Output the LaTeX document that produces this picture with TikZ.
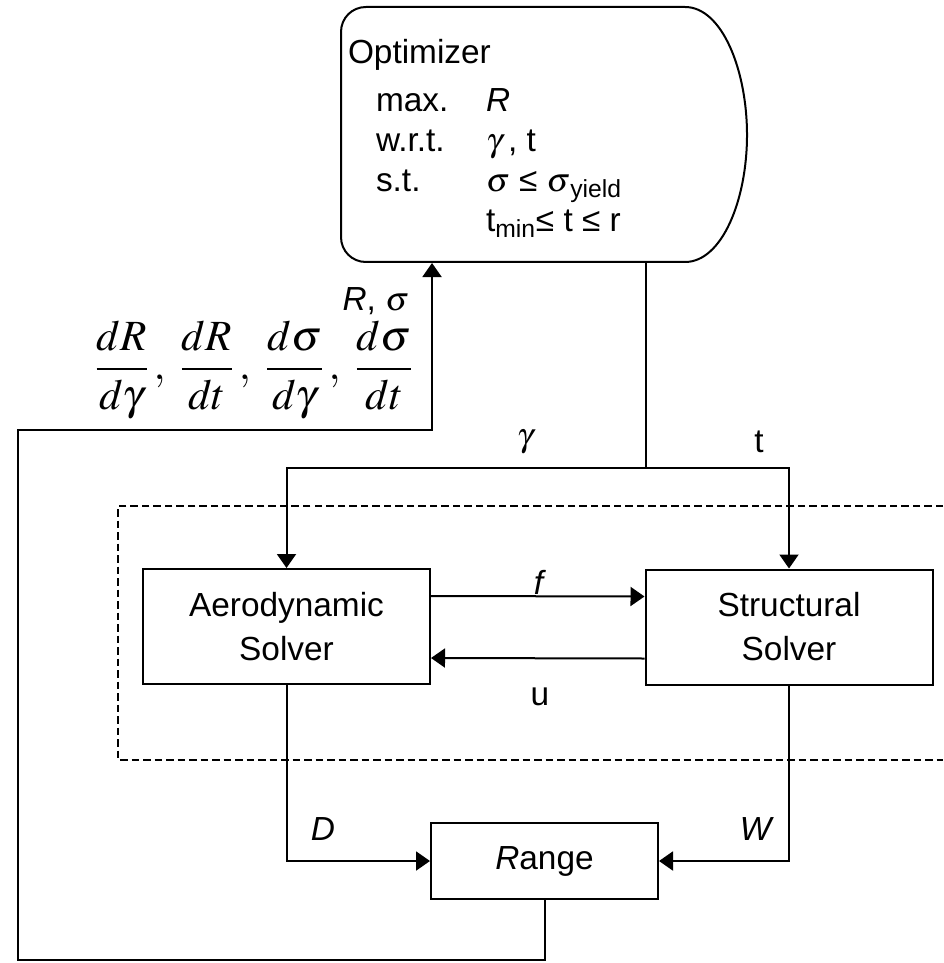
\documentclass[tikz,border=0pt]{standalone}
\usepackage{mathptmx}
\usepackage[no-math]{fontspec}
\setmainfont{Liberation Sans}
\usetikzlibrary{arrows.meta}

\begin{document}
\begin{tikzpicture}[x=0.2mm, y=-0.2mm, line width=0.4mm,
    arr/.style={-{Triangle[length=2.8mm,width=3.8mm]}},
    solver/.style={draw, minimum width=57.4mm, minimum height=23mm, align=center, inner sep=0pt, font=\fontsize{19}{25}\selectfont},
    lbl/.style={inner sep=0pt, font=\fontsize{19}{22.8}\selectfont},
    loopbox/.style={line width=0.3mm, dash pattern=on 1.5mm off 0.8mm}]
    \useasboundingbox (0,0) rectangle (943,963);
    % optimizer
    \node[minimum width=81.2mm, minimum height=51mm, inner sep=0pt] (opt) at (544,134.5) {};
    \draw (366,7) -- (685,7) .. controls (722,7) and (747,70) .. (747,135)
        .. controls (747,200) and (722,262) .. (685,262) -- (366,262)
        .. controls (352,262) and (341,251) .. (341,237) -- (341,32)
        .. controls (341,18) and (352,7) .. (366,7);
    \node[lbl, anchor=north west, align=left] (opttxt) at (347,38) {Optimizer\\[1.6mm]
        \hspace*{5.6mm}\makebox[22mm][l]{max.}\textit{R}\\
        \hspace*{5.6mm}\makebox[22mm][l]{w.r.t.}$\gamma$\,, t\\
        \hspace*{5.6mm}\makebox[22mm][l]{s.t.}$\sigma$ ≤ $\sigma$\textsubscript{yield}\\
        \hspace*{5.6mm}\makebox[22mm][l]{}t\textsubscript{min}≤ t ≤ r};
    % solvers
    \node[solver] (aero) at (286.5,626.5) {Aerodynamic\\Solver};
    \node[solver] (struct) at (789,627) {Structural\\Solver};
    \node[solver, minimum width=45.4mm, minimum height=15.2mm] (range) at (544.5,861) {\textit{R}ange};
    \draw[loopbox] (943,506) -- (118,506) -- (118,760) -- (943,760);
    % design variables
    \coordinate (split) at (646,468);
    \draw (opt.south -| split) -- (split);
    \draw[arr] (split) -| (aero.north);
    \draw[arr] (split) -| (struct.north);
    \node[lbl] (gam) at (525,442) {$\gamma$};
    \node[lbl] (tlab) at (759,442) {t};
    % coupling
    \draw[arr] ([yshift=6.1mm]aero.east) -- ([yshift=6.1mm]struct.west);
    \draw[arr] ([yshift=-6.3mm]struct.west) -- ([yshift=-6.3mm]aero.east);
    \node[lbl] (flab) at (540,582) {\textit{f}};
    \node[lbl] (ulab) at (540,697) {u};
    % range
    \draw[arr] (aero.south) |- (range.west);
    \draw[arr] (struct.south) |- (range.east);
    \node[lbl] (dlab) at (323,829) {\textit{D}};
    \node[lbl] (wlab) at (757,829) {\textit{W}};
    % feedback
    \coordinate (fb) at (432,430);
    \draw[arr] (range.south) |- (18,960) |- (fb) -- (fb |- opt.south);
    \node[lbl, anchor=east] (rsig) at (410,301) {\textit{R}, $\sigma$};
    \node[lbl, font=\fontsize{24.5}{28}\selectfont] (grads) at (254,370)
        {$\displaystyle\frac{dR}{d\gamma}\,,\;\frac{dR}{dt}\,,\;\frac{d\sigma}{d\gamma}\,,\;\frac{d\sigma}{dt}$};
\end{tikzpicture}
\end{document}
